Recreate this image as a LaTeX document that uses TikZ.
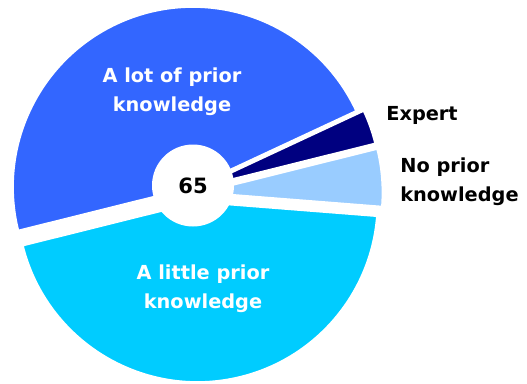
\documentclass[tikz,border=0pt]{standalone}
\usepackage{fontspec}
\setmainfont{DejaVu Sans}
\definecolor{lotblue}{HTML}{3366FF}
\definecolor{littleblue}{HTML}{00CCFF}
\definecolor{noblue}{HTML}{99CCFF}
\definecolor{expertblue}{HTML}{000080}

\begin{document}
\begin{tikzpicture}[x=0.02cm,y=0.02cm]
	\tikzstyle{slice} = [draw=white, line width=1pt, line join=round]
	\tikzstyle{inlabel} = [text=white, font=\bfseries\fontsize{11}{16.4}\selectfont, align=center, inner sep=0pt]
	\tikzstyle{outlabel} = [text=black, font=\bfseries\fontsize{11}{16.4}\selectfont, align=left, anchor=west, inner sep=0pt]

	\useasboundingbox (0,0) rectangle (527,383);

	% slices, each pulled out a little from the middle
	\filldraw [slice, fill=lotblue] (193,196) -- ++(25:180) arc (25:194:180) -- cycle;
	\filldraw [slice, fill=littleblue] (197.5,181) -- ++(194:180) arc (194:355.5:180) -- cycle;
	\filldraw [slice, fill=noblue] (202.5,190.5) -- ++(-4.5:180) arc (-4.5:14:180) -- cycle;
	\filldraw [slice, fill=expertblue] (200.5,196) -- ++(14:180) arc (14:25:180) -- cycle;

	\node (hole) at (193,197.5) [circle, fill=white, minimum size=82*0.02cm, inner sep=0pt] {};
	\node (total) at (hole.center) [font=\bfseries\fontsize{12}{14}\selectfont] {65};

	\node (lot) at (172,291) [inlabel] {A lot of prior\\knowledge};
	\node (little) at (203,94) [inlabel] {A little prior\\knowledge};
	\node (expert) at (386,268) [outlabel] {Expert};
	\node (noprior) at (400,201) [outlabel] {No prior\\knowledge};

\end{tikzpicture}
\end{document}
